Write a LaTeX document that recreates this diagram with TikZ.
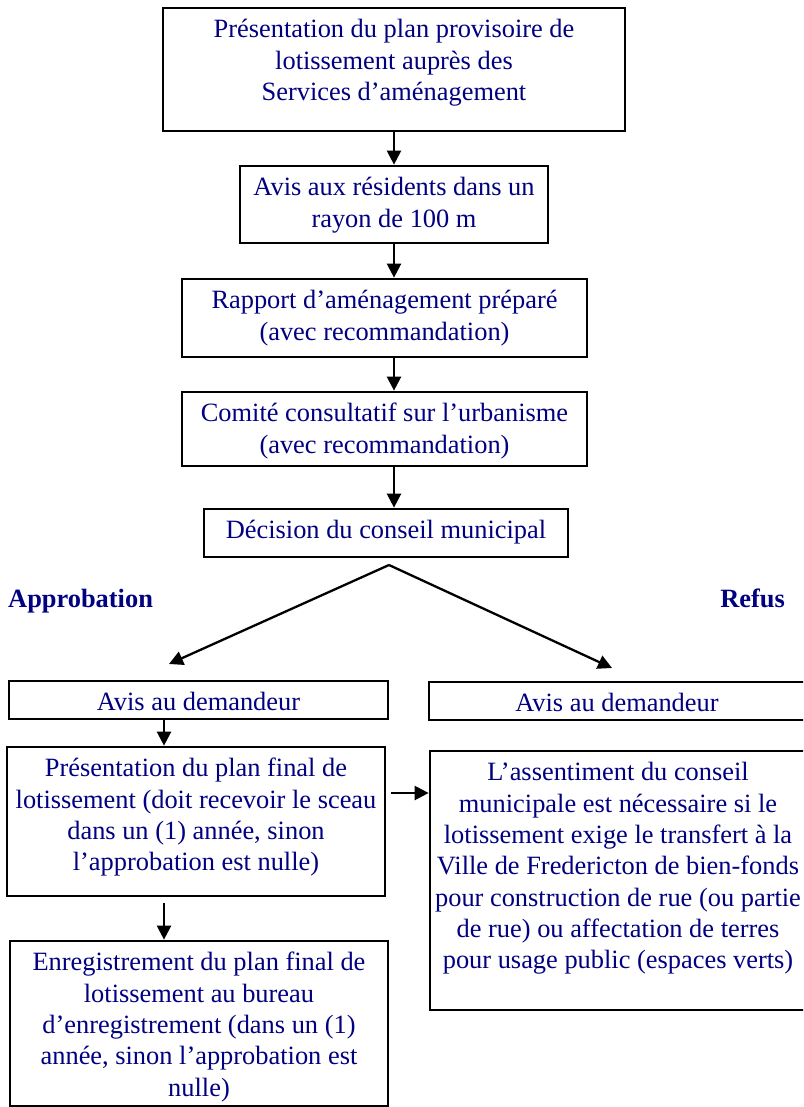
\documentclass[tikz,border=0pt]{standalone}
\usepackage{fontspec}
\setmainfont{Liberation Serif}
\usetikzlibrary{arrows.meta,calc}
\definecolor{txtblue}{RGB}{0,0,128}
\newcommand\myline[1]{\hbox to\linewidth{\hss\strut #1\hss}}
\newcommand\mybox[3]{\parbox[c][#2][t]{#1}{\fontsize{26.4pt}{31.3pt}\selectfont\vspace*{8pt}#3}}
\begin{document}
\begin{tikzpicture}[x=1pt,y=-1pt,
  boxst/.style={draw=black, line width=2.7pt, inner sep=0pt, text=txtblue},
  lbl/.style={inner sep=0pt, text=txtblue, font=\fontsize{26.4pt}{31.3pt}\selectfont\bfseries},
  arr/.style={line width=2.3pt, -{Triangle[length=14pt,width=14pt]}}]
\useasboundingbox (0,0) rectangle (803,1107);
\clip (0,0) rectangle (803,1107);
\node[boxst] (b1) at (394,69.5) {\mybox{462pt}{123pt}{\myline{Présentation du plan provisoire de}\myline{lotissement auprès des}\myline{Services d’aménagement}}};
\node[boxst] (b2) at (394,204.5) {\mybox{308pt}{77pt}{\myline{Avis aux résidents dans un}\myline{rayon de 100 m}}};
\node[boxst] (b3) at (384.5,318) {\mybox{405pt}{78pt}{\myline{Rapport d’aménagement préparé}\myline{(avec recommandation)}}};
\node[boxst] (b4) at (384.5,429) {\mybox{405pt}{74pt}{\myline{Comité consultatif sur l’urbanisme}\myline{(avec recommandation)}}};
\node[boxst] (b5) at (386,533) {\mybox{364pt}{48pt}{\myline{Décision du conseil municipal}}};
\node[lbl, anchor=base west] (appr) at (8,607) {Approbation};
\node[lbl, anchor=base east] (refus) at (785,607) {Refus};
\node[boxst] (la) at (198.5,700) {\mybox{379pt}{38pt}{\myline{Avis au demandeur}}};
\node[boxst] (ra) at (617,701) {\mybox{376pt}{38pt}{\myline{Avis au demandeur}}};
\node[boxst] (pf) at (196,821.5) {\mybox{378pt}{149pt}{\myline{Présentation du plan final de}\myline{lotissement (doit recevoir le sceau}\myline{dans un (1) année, sinon}\myline{l’approbation est nulle)}}};
\node[boxst] (en) at (199,1023.5) {\mybox{378pt}{165pt}{\myline{Enregistrement du plan final de}\myline{lotissement au bureau}\myline{d’enregistrement (dans un (1)}\myline{année, sinon l’approbation est}\myline{nulle)}}};
\node[boxst] (rb) at (618,880.5) {\mybox{376pt}{259pt}{\myline{L’assentiment du conseil}\myline{municipale est nécessaire si le}\myline{lotissement exige le transfert à la}\myline{Ville de Fredericton de bien-fonds}\myline{pour construction de rue (ou partie}\myline{de rue) ou affectation de terres}\myline{pour usage public (espaces verts)}}};
\coordinate (ax) at (394,0);
\coordinate (lx) at (164,0);
\coordinate (hy) at (0,793);
\coordinate (apex) at (389,565);
\coordinate (tl) at (169,664);
\coordinate (tr) at (612,668);
\draw[arr] (b1.south) -- (b2.north);
\draw[arr] (b2.south) -- (b3.north -| ax);
\draw[arr] (b3.south -| ax) -- (b4.north -| ax);
\draw[arr] (b4.south -| ax) -- (b5.north -| ax);
\draw[arr] (apex) -- (tl);
\draw[arr] (apex) -- (tr);
\draw[arr] (la.south -| lx) -- (pf.north -| lx);
\draw[arr] ($(pf.south -| lx)+(0,6)$) -- (en.north -| lx);
\draw[arr] ($(pf.east |- hy)+(5,0)$) -- (rb.west |- hy);
\end{tikzpicture}
\end{document}
